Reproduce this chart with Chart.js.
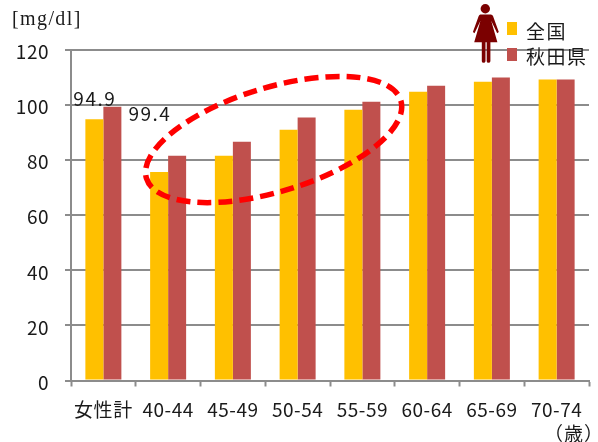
<!DOCTYPE html>
<html lang="ja">
<head>
  <meta charset="UTF-8">
  <title>血糖値 女性</title>
  <style>
    body { margin: 0; background: #fff; }
    #wrap { position: relative; width: 598px; height: 442px; overflow: hidden; color: #1a1a1a; font-family: "Noto Sans CJK JP"; }
    .txt { position: absolute; white-space: nowrap; line-height: 1; }
    .swatch { position: absolute; width: 10px; height: 13px; }
  </style>
</head>
<body>
<div id="wrap">
  <canvas id="barChart" width="598" height="442"></canvas>
  <div class="txt" style="left:12px;top:7px;font:20px 'Liberation Serif';letter-spacing:1.4px">[mg/dl]</div>
  <svg style="position:absolute;left:468px;top:0" width="36" height="64" viewBox="468 0 36 64">
    <g fill="#7b0000">
      <circle cx="485.3" cy="8.7" r="4.7"/>
      <path d="M480 14.5h10.8q1.6 0 2.2 1.6l5.8 16-1.6 1.2-6-12.5 6.2 21.5h-7v19q-0.2 1.5-2 1.5-1.6 0-1.7-1.5v-19h-1.2v19q-0.2 1.5-1.9 1.5-1.7 0-1.8-1.5v-19h-7.6l6.3-21.5-6 12.5-1.6-1.2 5.8-16q0.6-1.6 1.7-1.6z"/>
    </g>
  </svg>
  <div class="swatch" style="left:507px;top:22px;background:#FFC000"></div>
  <div class="swatch" style="left:507px;top:48px;background:#C0504D"></div>
  <div class="txt" style="left:526px;top:21px;font-size:19px;letter-spacing:1.5px">全国</div>
  <div class="txt" style="left:526px;top:46px;font-size:19px;letter-spacing:1.5px">秋田県</div>
  <div class="txt" style="left:544px;top:423px;font-size:19px;letter-spacing:1px">（歳）</div>
</div>

<script src="https://cdn.jsdelivr.net/npm/chart.js"></script>
<script>
  const labels = ["女性計", "40-44", "45-49", "50-54", "55-59", "60-64", "65-69", "70-74"];
  const zenkoku = [94.9, 75.7, 81.6, 91.0, 98.3, 104.8, 108.5, 109.3];
  const akita = [99.4, 81.6, 86.7, 95.5, 101.2, 107.0, 110.0, 109.3];
  const yTicks = [0, 20, 40, 60, 80, 100, 120];

  const tickFont = { family: '"Noto Sans CJK JP"', size: 19 };

  // value labels on the first group and the dashed ring around the 40-59 bars
  const overlay = {
    id: 'overlay',
    beforeDraw(chart) {
      chart.ctx.letterSpacing = '0.5px';
    },
    afterDatasetsDraw(chart) {
      const ctx = chart.ctx;
      const sx = chart.scales.x, sy = chart.scales.y;
      const bar0 = chart.getDatasetMeta(0).data[0];
      const bar1 = chart.getDatasetMeta(1).data[0];

      ctx.save();
      ctx.translate(sx.getPixelForValue(2.63), sy.getPixelForValue(87.5));
      ctx.rotate(-17 * Math.PI / 180);
      ctx.beginPath();
      ctx.ellipse(0, 0, 133, 52, 0, 0, Math.PI * 2);
      ctx.strokeStyle = '#ff0000';
      ctx.lineWidth = 5.5;
      ctx.setLineDash([14, 7]);
      ctx.stroke();
      ctx.restore();

      ctx.save();
      ctx.font = '19px "Noto Sans CJK JP"';
      ctx.fillStyle = '#1a1a1a';
      ctx.letterSpacing = '1.5px';
      ctx.textAlign = 'left';
      ctx.textBaseline = 'alphabetic';
      ctx.fillText(zenkoku[0].toFixed(1), bar0.x - 21, bar0.y - 13.5);
      ctx.fillText(akita[0].toFixed(1), bar1.x + 16, bar1.y + 14);
      ctx.restore();
    }
  };

  new Chart(document.getElementById('barChart'), {
    type: 'bar',
    data: {
      labels: labels,
      datasets: [
        { label: '全国', data: zenkoku, backgroundColor: '#FFC000' },
        { label: '秋田県', data: akita, backgroundColor: '#C0504D' }
      ]
    },
    options: {
      responsive: false,
      animation: false,
      layout: { padding: { top: 50, right: 9, left: 0, bottom: 0 } },
      plugins: { legend: { display: false }, tooltip: { enabled: false } },
      datasets: { bar: { categoryPercentage: 0.556, barPercentage: 1 } },
      scales: {
        x: {
          afterFit(scale) { scale.height = 61.5; },
          grid: { drawOnChartArea: false, tickLength: 6, tickColor: '#8c8c8c', tickWidth: 2, offset: true },
          border: { color: '#8c8c8c', width: 2 },
          ticks: { color: '#1a1a1a', font: tickFont, maxRotation: 0, padding: 12 }
        },
        y: {
          min: 0,
          max: 120,
          afterFit(scale) { scale.width = 71; },
          afterBuildTicks(scale) { scale.ticks = yTicks.map(v => ({ value: v })); },
          grid: { color: '#8c8c8c', lineWidth: 2, tickLength: 6, tickColor: '#8c8c8c' },
          border: { color: '#8c8c8c', width: 2 },
          ticks: { color: '#1a1a1a', font: tickFont, padding: 16, labelOffset: 2 }
        }
      }
    },
    plugins: [overlay]
  });
</script>
</body>
</html>
